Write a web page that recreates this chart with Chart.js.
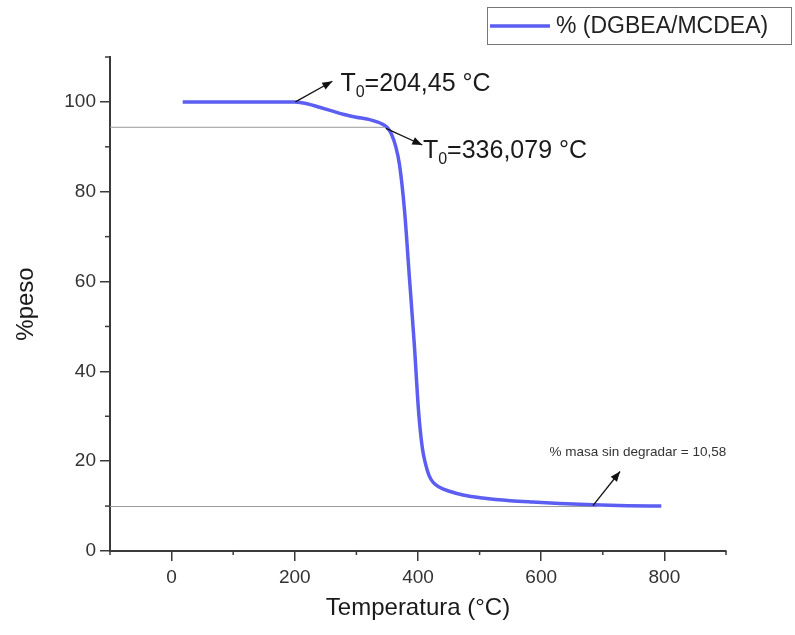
<!DOCTYPE html>
<html><head><meta charset="utf-8">
<script src="https://cdn.jsdelivr.net/npm/chart.js@4.4.0/dist/chart.umd.min.js"></script>
<style>html,body{margin:0;padding:0;background:#fff}#wrap{width:795px;height:635px;position:relative}</style>
</head><body><div id="wrap"><canvas id="c"></canvas></div>
<script>
// ---- data ----
const seriesLabel = '% (DGBEA/MCDEA)';
const temperatures = [18, 100, 200, 220, 240, 260, 280, 300, 320, 340, 350, 357, 364, 370, 378, 386, 394, 401, 407, 412, 418, 425, 435, 451, 475, 505, 550, 586, 630, 684, 740, 795];
const weightPct    = [100, 100, 100, 99.6, 98.8, 98.0, 97.2, 96.6, 96.1, 95.2, 94.3, 92.8, 90.0, 86.0, 76.0, 61.0, 46.0, 31.0, 23.0, 19.5, 16.8, 15.2, 14.2, 13.3, 12.4, 11.8, 11.2, 10.9, 10.6, 10.3, 10.1, 10.0];
const refLevels    = [94.35, 9.9];
const refEnds      = [345, 690];
const xMajorTicks  = [0, 200, 400, 600, 800];
const yMajorTicks  = [0, 20, 40, 60, 80, 100];
const xMinorTicks  = [-100, 100, 300, 500, 700, 900];
const yMinorTicks  = [10, 30, 50, 70, 90, 110];
const arrowTails   = [[201, 100], [348, 94.1], [684, 10.1]];
const arrowHeads   = [[261, 104.6], [407, 90.4], [728, 17.7]];
const onsetTexts   = ['=204,45 °C', '=336,079 °C'];
const onsetPos     = [[274, 104.9], [408, 89.9]];
const residueText  = '% masa sin degradar = 10,58';
const residuePos   = [757, 21.9];

const FONT = 'Arial, "Liberation Sans", Helvetica, sans-serif';

const datasets = [{
  label: seriesLabel,
  data: temperatures.map((t, i) => ({x: t, y: weightPct[i]})),
  borderColor: '#5b5ef0', borderWidth: 3.5, pointRadius: 0,
  showLine: true, cubicInterpolationMode: 'monotone', order: 0
}];
refLevels.forEach((lv, i) => datasets.push({
  label: 'ref' + i,
  data: [{x: -100, y: lv}, {x: refEnds[i], y: lv}],
  borderColor: '#9a9a9a', borderWidth: 1, pointRadius: 0, showLine: true, order: 1
}));

function arrow(ctx, x1, y1, x2, y2) {
  ctx.beginPath(); ctx.moveTo(x1, y1); ctx.lineTo(x2, y2); ctx.stroke();
  const a = Math.atan2(y2 - y1, x2 - x1), L = 10, W = 4;
  ctx.beginPath();
  ctx.moveTo(x2, y2);
  ctx.lineTo(x2 - L * Math.cos(a) + W * Math.sin(a), y2 - L * Math.sin(a) - W * Math.cos(a));
  ctx.lineTo(x2 - L * Math.cos(a) - W * Math.sin(a), y2 - L * Math.sin(a) + W * Math.cos(a));
  ctx.closePath(); ctx.fill();
}

const decor = {
  id: 'decor',
  afterDatasetsDraw(chart) {
    const {ctx, scales: {x, y}} = chart;
    ctx.save();
    // minor ticks
    ctx.strokeStyle = '#3a3a3a'; ctx.lineWidth = 1.5;
    xMinorTicks.forEach(v => { const p = x.getPixelForValue(v); ctx.beginPath(); ctx.moveTo(p, y.bottom); ctx.lineTo(p, y.bottom + 4); ctx.stroke(); });
    yMinorTicks.forEach(v => { const p = y.getPixelForValue(v); ctx.beginPath(); ctx.moveTo(x.left, p); ctx.lineTo(x.left - 5, p); ctx.stroke(); });
    // arrows
    ctx.strokeStyle = '#111'; ctx.fillStyle = '#111'; ctx.lineWidth = 1.3;
    arrowTails.forEach((t, i) => {
      const h = arrowHeads[i];
      arrow(ctx, x.getPixelForValue(t[0]), y.getPixelForValue(t[1]), x.getPixelForValue(h[0]), y.getPixelForValue(h[1]));
    });
    // onset texts with subscript
    ctx.fillStyle = '#1a1a1a'; ctx.textBaseline = 'alphabetic'; ctx.textAlign = 'left';
    onsetTexts.forEach((txt, i) => {
      let px = x.getPixelForValue(onsetPos[i][0]);
      const py = y.getPixelForValue(onsetPos[i][1]) + 11;
      ctx.font = '25px ' + FONT; ctx.fillText('T', px, py); px += ctx.measureText('T').width;
      ctx.font = '16px ' + FONT; ctx.fillText('0', px, py + 6); px += ctx.measureText('0').width;
      ctx.font = '25px ' + FONT; ctx.fillText(txt, px, py);
    });
    // residue text
    ctx.font = '13.5px ' + FONT; ctx.textAlign = 'center'; ctx.textBaseline = 'middle'; ctx.fillStyle = '#333';
    ctx.fillText(residueText, x.getPixelForValue(residuePos[0]), y.getPixelForValue(residuePos[1]));
    // legend
    ctx.strokeStyle = '#777'; ctx.lineWidth = 1;
    ctx.strokeRect(487.5, 7.5, 304, 37);
    ctx.strokeStyle = datasets[0].borderColor; ctx.lineWidth = 3.5;
    ctx.beginPath(); ctx.moveTo(490, 26); ctx.lineTo(550, 26); ctx.stroke();
    ctx.fillStyle = '#222'; ctx.font = '23px ' + FONT; ctx.textAlign = 'left'; ctx.textBaseline = 'middle';
    ctx.fillText(datasets[0].label, 556, 27);
    ctx.restore();
  }
};

new Chart(document.getElementById('c'), {
  type: 'scatter',
  data: {datasets},
  plugins: [decor],
  options: {
    responsive: true, maintainAspectRatio: false, animation: false,
    layout: {padding: {left: 0, top: 57, right: 69, bottom: 0}},
    plugins: {legend: {display: false}, tooltip: {enabled: false}},
    scales: {
      x: {
        type: 'linear', min: -100, max: 900,
        afterBuildTicks: s => { s.ticks = xMajorTicks.map(v => ({value: v})); },
        afterFit: s => { s.height = 84; },
        ticks: {color: '#333', font: {family: FONT, size: 19}, padding: 5, maxRotation: 0},
        grid: {display: true, drawOnChartArea: false, drawTicks: true, tickLength: 10, color: '#3a3a3a', lineWidth: 1.5},
        border: {display: true, color: '#3a3a3a', width: 2},
        title: {display: true, text: 'Temperatura (°C)', color: '#1a1a1a', font: {family: FONT, size: 24}, padding: {top: 0, bottom: 12}}
      },
      y: {
        type: 'linear', min: 0, max: 110,
        afterBuildTicks: s => { s.ticks = yMajorTicks.map(v => ({value: v})); },
        afterFit: s => { s.width = 110; },
        ticks: {color: '#333', font: {family: FONT, size: 19}, padding: 4},
        grid: {display: true, drawOnChartArea: false, drawTicks: true, tickLength: 10, color: '#3a3a3a', lineWidth: 1.5},
        border: {display: true, color: '#3a3a3a', width: 2},
        title: {display: true, text: '%peso', color: '#1a1a1a', font: {family: FONT, size: 24}, padding: {top: 12, bottom: 0}}
      }
    }
  }
});
</script></body></html>
